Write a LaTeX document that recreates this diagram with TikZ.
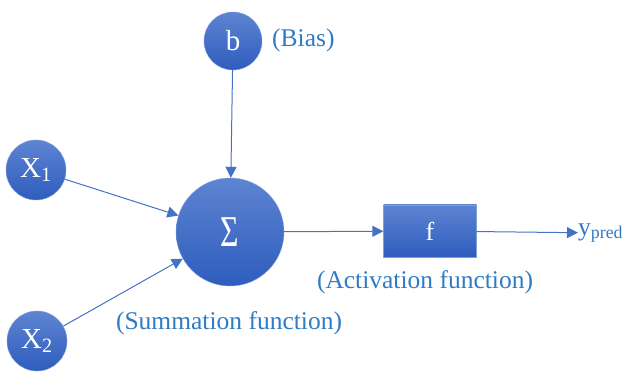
\documentclass[tikz,border=0pt]{standalone}
\usepackage{fontspec}
\setmainfont{Liberation Serif}
\usetikzlibrary{arrows.meta}
\definecolor{nodetop}{HTML}{5E84D2}
\definecolor{nodebot}{HTML}{2E5DBD}
\definecolor{linkblue}{HTML}{4472C4}
\definecolor{labelblue}{HTML}{2E7BC6}
\tikzset{
  unit/.style={circle, inner sep=0pt, top color=nodetop, bottom color=nodebot,
    draw=nodetop!80!white, line width=0.4pt, text=white, font=\fontsize{29}{32}\selectfont},
  actbox/.style={rectangle, inner sep=0pt, minimum width=93pt, minimum height=52pt,
    top color=nodetop, bottom color=nodebot, draw=nodetop!80!white, line width=0.4pt,
    text=white, font=\fontsize{26}{30}\selectfont},
  note/.style={text=labelblue, inner sep=0pt, font=\fontsize{25.5}{30}\selectfont},
  link/.style={draw=linkblue, line width=1pt, -{Triangle[width=11pt,length=11pt]}}
}
\begin{document}
\begin{tikzpicture}[x=1pt, y=-1pt]
  \useasboundingbox (0,0) rectangle (622,374);
  % input, bias and summation units
  \node[unit, minimum size=58pt] (b) at (233,41) {b};
  \node[unit, minimum size=60pt] (x1) at (36,170) {X\textsubscript{1}};
  \node[unit, minimum size=60pt] (x2) at (37,341) {X\textsubscript{2}};
  \node[unit, minimum size=108pt, font=\fontsize{44}{48}\selectfont] (sum) at (230,232)
    {\scalebox{0.72}[1]{Σ}};
  % activation box and output
  \node[actbox] (f) at (430,231) {f};
  \node[note, anchor=west] (y) at (578,233) {y\textsubscript{pred}};
  % labels
  \node[note, anchor=west] (biaslbl) at (272,40) {(Bias)};
  \node[note] (actlbl) at (425,282) {(Activation function)};
  \node[note] (sumlbl) at (229,323) {(Summation function)};
  % connectors
  \draw[link] (b) -- (sum);
  \draw[link] (x1) -- (sum);
  \draw[link] (x2) -- (sum);
  \draw[link] (sum) -- (f);
  \draw[link] (f) -- (y);
\end{tikzpicture}
\end{document}
